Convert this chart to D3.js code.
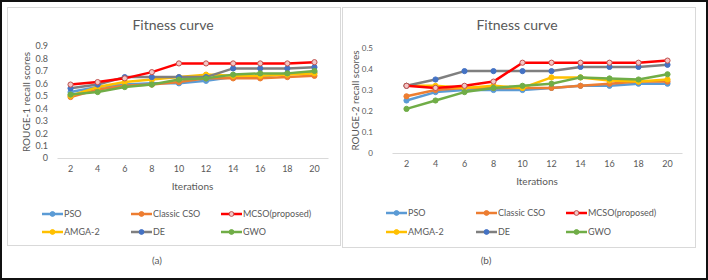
<!DOCTYPE html>
<html>
<head>
<meta charset="utf-8">
<script src="https://cdn.jsdelivr.net/npm/d3@7"></script>
<style>
  body { margin: 0; background: #fff; }
  text { font-family: Lato, "Open Sans", sans-serif; fill: #595959; }
</style>
</head>
<body>
<script>
let w = 708;
let h = 280;

let iterations = [2, 4, 6, 8, 10, 12, 14, 16, 18, 20];
let seriesNames = ['PSO', 'Classic CSO', 'MCSO(proposed)', 'AMGA-2', 'DE', 'GWO'];

// ROUGE-1 (a)
let r1PSO   = [0.53, 0.57, 0.59, 0.60, 0.60, 0.62, 0.65, 0.65, 0.68, 0.69];
let r1CSO   = [0.49, 0.55, 0.58, 0.59, 0.61, 0.64, 0.64, 0.64, 0.65, 0.66];
let r1MCSO  = [0.59, 0.61, 0.64, 0.69, 0.76, 0.76, 0.76, 0.76, 0.76, 0.77];
let r1AMGA  = [0.50, 0.57, 0.61, 0.63, 0.65, 0.67, 0.66, 0.66, 0.67, 0.68];
let r1DE    = [0.56, 0.59, 0.65, 0.65, 0.65, 0.65, 0.72, 0.72, 0.72, 0.73];
let r1GWO   = [0.51, 0.53, 0.57, 0.59, 0.63, 0.64, 0.67, 0.68, 0.68, 0.70];
let r1Ticks = [0, 0.1, 0.2, 0.3, 0.4, 0.5, 0.6, 0.7, 0.8, 0.9];

// ROUGE-2 (b)
let r2PSO   = [0.25, 0.29, 0.30, 0.30, 0.30, 0.31, 0.32, 0.32, 0.33, 0.33];
let r2CSO   = [0.27, 0.30, 0.31, 0.31, 0.31, 0.31, 0.32, 0.33, 0.34, 0.34];
let r2MCSO  = [0.32, 0.31, 0.32, 0.34, 0.43, 0.43, 0.43, 0.43, 0.43, 0.44];
let r2AMGA  = [0.32, 0.32, 0.31, 0.32, 0.31, 0.36, 0.36, 0.345, 0.34, 0.35];
let r2DE    = [0.32, 0.35, 0.39, 0.39, 0.39, 0.39, 0.41, 0.41, 0.41, 0.42];
let r2GWO   = [0.21, 0.25, 0.29, 0.31, 0.32, 0.33, 0.36, 0.355, 0.35, 0.375];
let r2Ticks = [0, 0.1, 0.2, 0.3, 0.4, 0.5];

let lineColors   = ['#5b9bd5', '#ed7d31', '#ff0000', '#ffc000', '#7f7f7f', '#70ad47'];
let markerFill   = ['#5b9bd5', '#ed7d31', '#f4c6c6', '#ffc000', '#4472c4', '#70ad47'];
let markerStroke = ['#5b9bd5', '#ed7d31', '#c0504d', '#ffc000', '#4472c4', '#70ad47'];
let drawOrder = [0, 1, 3, 4, 5, 2];

let svg = d3.select('body')
  .append('svg')
  .attr('width', w)
  .attr('height', h);

svg.append('rect')
  .attr('x', 1).attr('y', 1)
  .attr('width', w - 2).attr('height', h - 2)
  .attr('fill', '#fff')
  .attr('stroke', '#111')
  .attr('stroke-width', 2);

function drawChart(cfg) {
  let g = svg.append('g');

  g.append('rect')
    .attr('x', cfg.box[0] + 0.5).attr('y', cfg.box[1] + 0.5)
    .attr('width', cfg.box[2]).attr('height', cfg.box[3])
    .attr('fill', '#fff')
    .attr('stroke', '#d9d9d9');

  let xScale = d3.scaleBand()
    .domain(iterations)
    .range(cfg.xRange);

  let yScale = d3.scaleLinear()
    .domain([0, d3.max(cfg.ticks)])
    .range(cfg.yRange);

  let xAxis = d3.axisBottom(xScale).tickSize(0).tickPadding(8);
  let yAxis = d3.axisLeft(yScale)
    .tickValues(cfg.ticks)
    .tickSize(0)
    .tickPadding(cfg.xRange[0] - cfg.labelX)
    .tickFormat((d) => { return d === 0 ? '0' : d.toFixed(1); });

  let gx = g.append('g')
    .attr('transform', 'translate(0, ' + cfg.yRange[0] + ')')
    .call(xAxis);
  gx.select('.domain').attr('stroke', '#d9d9d9');
  gx.selectAll('text').attr('font-size', '9px').attr('fill', '#595959').attr('font-family', 'Lato');

  let gy = g.append('g')
    .attr('transform', 'translate(' + cfg.xRange[0] + ', 0)')
    .call(yAxis);
  gy.select('.domain').remove();
  gy.selectAll('text').attr('font-size', cfg.yTickSize).attr('fill', '#595959').attr('font-family', 'Lato');

  g.append('text')
    .attr('x', cfg.titleX).attr('y', 30)
    .attr('text-anchor', 'middle')
    .attr('font-size', '14px')
    .text('Fitness curve');

  g.append('text')
    .attr('transform', 'translate(' + cfg.yTitleX + ', ' + ((cfg.yRange[0] + cfg.yRange[1]) / 2) + ') rotate(-90)')
    .attr('text-anchor', 'middle')
    .attr('font-size', '10px')
    .text(cfg.yTitle);

  g.append('text')
    .attr('x', (cfg.xRange[0] + cfg.xRange[1]) / 2).attr('y', cfg.yRange[0] + 32)
    .attr('text-anchor', 'middle')
    .attr('font-size', '10px')
    .text('Iterations');

  let line = d3.line()
    .x((d, i) => { return xScale(iterations[i]) + xScale.bandwidth() / 2; })
    .y((d) => { return yScale(d); });

  drawOrder.forEach((k) => {
    g.append('path')
      .attr('d', line(cfg.series[k]))
      .attr('fill', 'none')
      .attr('stroke', lineColors[k])
      .attr('stroke-width', 2.5)
      .attr('stroke-linejoin', 'round');

    g.selectAll('.m' + k)
      .data(cfg.series[k])
      .enter()
      .append('circle')
      .attr('cx', (d, i) => { return xScale(iterations[i]) + xScale.bandwidth() / 2; })
      .attr('cy', (d) => { return yScale(d); })
      .attr('r', 2.6)
      .attr('fill', markerFill[k])
      .attr('stroke', markerStroke[k])
      .attr('stroke-width', 1);
  });

  // legend
  seriesNames.forEach((name, k) => {
    let lx = cfg.legendX[k % 3];
    let ly = cfg.legendY[Math.floor(k / 3)];
    g.append('line')
      .attr('x1', lx).attr('x2', lx + 21)
      .attr('y1', ly).attr('y2', ly)
      .attr('stroke', lineColors[k])
      .attr('stroke-width', 2.5);
    g.append('circle')
      .attr('cx', lx + 10.5).attr('cy', ly)
      .attr('r', 2.4)
      .attr('fill', markerFill[k])
      .attr('stroke', markerStroke[k]);
    g.append('text')
      .attr('x', lx + 22).attr('y', ly + 3)
      .attr('font-size', '9px')
      .text(name);
  });

  svg.append('text')
    .attr('x', cfg.capX).attr('y', 264)
    .attr('text-anchor', 'middle')
    .attr('font-size', '10px')
    .attr('fill', '#222')
    .text(cfg.caption);
}

drawChart({
  box: [7, 7, 333, 238],
  xRange: [57, 328],
  yRange: [158, 46],
  labelX: 48,
  yTickSize: '9px',
  ticks: r1Ticks,
  titleX: 173,
  yTitleX: 30,
  yTitle: 'ROUGE-1 recall scores',
  series: [r1PSO, r1CSO, r1MCSO, r1AMGA, r1DE, r1GWO],
  legendX: [42, 131, 221],
  legendY: [214, 232],
  caption: '(a)',
  capX: 157
});

drawChart({
  box: [342, 7, 353, 240],
  xRange: [392, 682],
  yRange: [153, 48],
  labelX: 373,
  yTickSize: '8px',
  ticks: r2Ticks,
  titleX: 517,
  yTitleX: 359,
  yTitle: 'ROUGE-2 recall scores',
  series: [r2PSO, r2CSO, r2MCSO, r2AMGA, r2DE, r2GWO],
  legendX: [386, 476, 566],
  legendY: [213, 232],
  caption: '(b)',
  capX: 486
});
</script>
</body>
</html>
